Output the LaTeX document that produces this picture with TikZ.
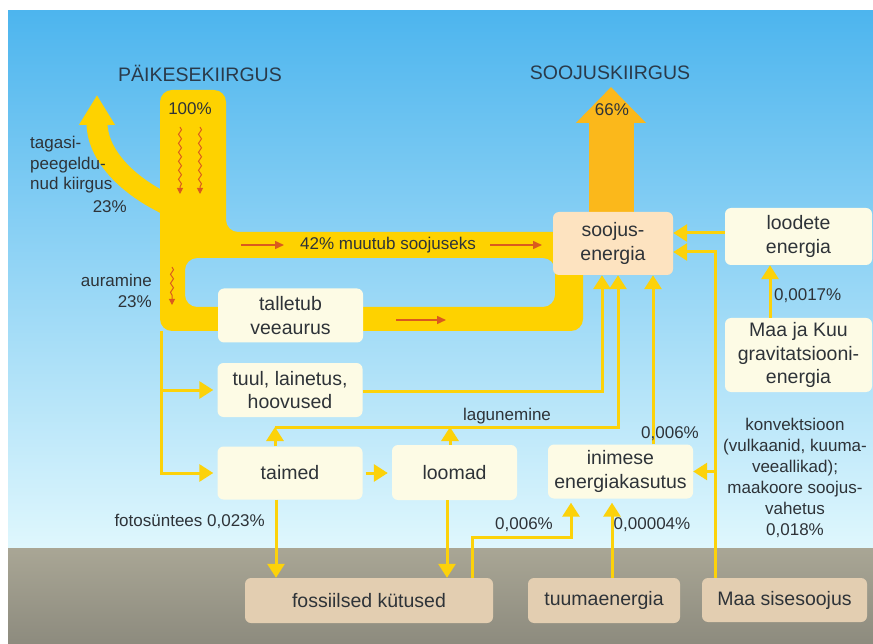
\documentclass[tikz,border=0pt]{standalone}
\usepackage{fontspec}
\setmainfont{Liberation Sans}
\usetikzlibrary{arrows.meta,decorations.pathmorphing}
\definecolor{skytop}{HTML}{4DB5EE}
\definecolor{skymid}{HTML}{B4E2F8}
\definecolor{skylow}{HTML}{DFF7FD}
\definecolor{groundtop}{HTML}{A9A695}
\definecolor{groundlow}{HTML}{8D8B7E}
\definecolor{sunyellow}{HTML}{FED200}
\definecolor{heatorange}{HTML}{FBB81B}
\definecolor{lineyellow}{HTML}{FCD20A}
\definecolor{redarrow}{HTML}{DA5A1E}
\definecolor{creambox}{HTML}{FDFBE5}
\definecolor{peachbox}{HTML}{FDE3C0}
\definecolor{tanbox}{HTML}{E3CEB1}
\definecolor{inktext}{HTML}{2E3338}
\definecolor{headink}{HTML}{2A3A4A}

\begin{document}
\begin{tikzpicture}[x=1pt,y=-1pt]
  \tikzset{
    energy box/.style={fill=#1,rounded corners=6pt,minimum width=145pt,minimum height=54pt,
      align=center,text=inktext,font=\fontsize{19.5}{23.5}\selectfont,inner sep=2pt},
    energy box/.default=creambox,
    flow arrow/.style={draw=lineyellow,line width=3pt,-{Triangle[length=14pt,width=17pt]}},
    share/.style={text=inktext,font=\fontsize{17}{20.5}\selectfont,inner sep=1pt},
    heading/.style={text=headink,font=\fontsize{19.5}{23}\selectfont},
    wave arrow/.style={draw=redarrow,line width=1pt,-{Triangle[length=6pt,width=6pt]},
      decorate,decoration={snake,amplitude=1.5pt,segment length=9pt,post length=6pt}},
    red arrow/.style={draw=redarrow,line width=1.5pt,-{Triangle[length=9pt,width=8pt]}}
  }

  % sky and ground
  \fill[white] (0,0) rectangle (873,644);
  \shade[top color=skytop,middle color=skymid,bottom color=skylow] (8,11) rectangle (873,548);
  \shade[top color=groundtop,bottom color=groundlow] (8,548) rectangle (873,644);
  \useasboundingbox (0,0) rectangle (873,644);

  % big flows
  \fill[sunyellow,even odd rule,rounded corners=12pt]
    (160,331) -- (160,90) -- (226,90) -- (226,232) -- (583,232) -- (583,331) -- cycle
    (185,258) -- (555,258) -- (555,307) -- (185,307) -- cycle;
  \draw[sunyellow,line width=21pt,-{Triangle[length=30pt,width=34pt]}]
    (168,205) .. controls (120,182) and (97,150) .. (97,95);
  \draw[heatorange,line width=45pt,-{Triangle[length=36pt,width=68pt]}] (611,216) -- (611,87);

  \draw[wave arrow] (180,127) -- (180,194);
  \draw[wave arrow] (200,127) -- (200,194);
  \draw[wave arrow] (172,267) -- (172,305);
  \draw[red arrow] (241,245) -- (284,245);
  \draw[red arrow] (490,245) -- (542,245);
  \draw[red arrow] (396,320) -- (446,320);

  % headings and shares
  \node[heading] (paike) at (200,73) {PÄIKESEKIIRGUS};
  \node[heading] (kiirgus) at (610,73) {SOOJUSKIIRGUS};
  \node[share] (sada) at (190,109) {100\%};
  \node[share] (kuuskuus) at (612,110) {66\%};
  \node[share] (muutub) at (388,245) {42\% muutub soojuseks};
  \node[share,align=left,anchor=north west] (tagasi) at (29,135) {tagasi-\\peegeldu-\\nud kiirgus};
  \node[share,anchor=east] (tagasipct) at (128,207) {23\%};
  \node[share,align=right,anchor=east] (auramine) at (153,291) {auramine\\23\%};
  \node[share,anchor=east] (fotosyntees) at (266,521) {fotosüntees 0,023\%};

  % boxes
  \node[energy box=peachbox,minimum width=120pt,minimum height=63pt] (soojus) at (613,243.5) {soojus-\\energia};
  \node[energy box,minimum width=147pt,minimum height=57pt] (loodete) at (798.5,236.5) {loodete\\energia};
  \node[energy box,minimum width=147pt,minimum height=74pt] (gravitatsioon) at (798.5,355) {Maa ja Kuu\\gravitatsiooni-\\energia};
  \node[energy box] (talletub) at (290.5,315.5) {talletub\\veeaurus};
  \node[energy box] (tuul) at (290,390) {tuul, lainetus,\\hoovused};
  \node[energy box,minimum height=53pt] (taimed) at (290,473) {taimed};
  \node[energy box,minimum width=125pt,minimum height=55pt] (loomad) at (454.5,472.5) {loomad};
  \node[energy box] (inimese) at (620.5,471.5) {inimese\\energiakasutus};
  \node[energy box=tanbox,minimum width=248pt,minimum height=45pt] (fossiil) at (369,600.5) {fossiilsed kütused};
  \node[energy box=tanbox,minimum width=152pt,minimum height=45pt] (tuuma) at (604,600.5) {tuumaenergia};
  \node[energy box=tanbox,minimum width=165pt,minimum height=44pt] (sisesoojus) at (784.5,600) {Maa sisesoojus};

  % bend points
  \coordinate (aura) at (161,331);
  \coordinate (tuulk) at (602,391);
  \coordinate (lagA) at (275,427);
  \coordinate (lagB) at (450,427);
  \coordinate (lagC) at (618,427);
  \coordinate (inimk) at (653,445);
  \coordinate (sisk) at (715,252);
  \coordinate (loodk) at (725,233);
  \coordinate (gravk) at (770,300);
  \coordinate (fotok) at (276,540);
  \coordinate (loomk) at (447,540);
  \coordinate (fosk) at (472,537);
  \coordinate (fosk2) at (571,537);
  \coordinate (tuumk) at (612,540);

  % connectors
  \draw[flow arrow,shorten >=4pt] (aura) -- (aura |- taimed.west) -- (taimed.west);
  \draw[flow arrow,shorten >=4pt] (aura |- tuul.west) -- (tuul.west);
  \draw[flow arrow] (tuul.east |- tuulk) -- (tuulk) -- (tuulk |- soojus.south);
  \draw[flow arrow] (lagA |- taimed.north) -- (lagA);
  \draw[flow arrow] (lagB |- loomad.north) -- (lagB);
  \draw[flow arrow] (lagA) -- (lagC) -- (lagC |- soojus.south);
  \draw[flow arrow] (inimk |- inimese.north) -- (inimk |- soojus.south);
  \draw[flow arrow] (sisk |- sisesoojus.north) -- (sisk) -- (sisk -| soojus.east);
  \draw[flow arrow] (sisk |- inimese.east) -- (inimese.east);
  \draw[flow arrow] (loodete.west |- loodk) -- (loodk -| soojus.east);
  \draw[flow arrow] (gravk |- gravitatsioon.north) -- (gravk |- loodete.south);
  \draw[flow arrow,shorten <=3pt,shorten >=4pt] (taimed.east) -- (taimed.east -| loomad.west);
  \draw[flow arrow] (fotok |- taimed.south) -- (fotok |- fossiil.north);
  \draw[flow arrow] (loomk |- loomad.south) -- (loomk |- fossiil.north);
  \draw[flow arrow,shorten >=4pt] (fosk |- fossiil.north) -- (fosk) -- (fosk2) -- (fosk2 |- inimese.south);
  \draw[flow arrow,shorten >=4pt] (tuumk |- tuuma.north) -- (tuumk |- inimese.south);

  % connector labels
  \node[share] (lagunemine) at (507,416) {lagunemine};
  \node[share] (inimpct) at (670,434) {0,006\%};
  \node[share] (fospct) at (524,525) {0,006\%};
  \node[share] (tuumpct) at (652,525) {0,00004\%};
  \node[share,anchor=west] (gravpct) at (773,296) {0,0017\%};
  \node[share,align=center,font=\fontsize{17}{21}\selectfont] (konvektsioon) at (795,478)
    {konvektsioon\\(vulkaanid, kuuma-\\veeallikad);\\maakoore soojus-\\vahetus\\0,018\%};
\end{tikzpicture}
\end{document}
